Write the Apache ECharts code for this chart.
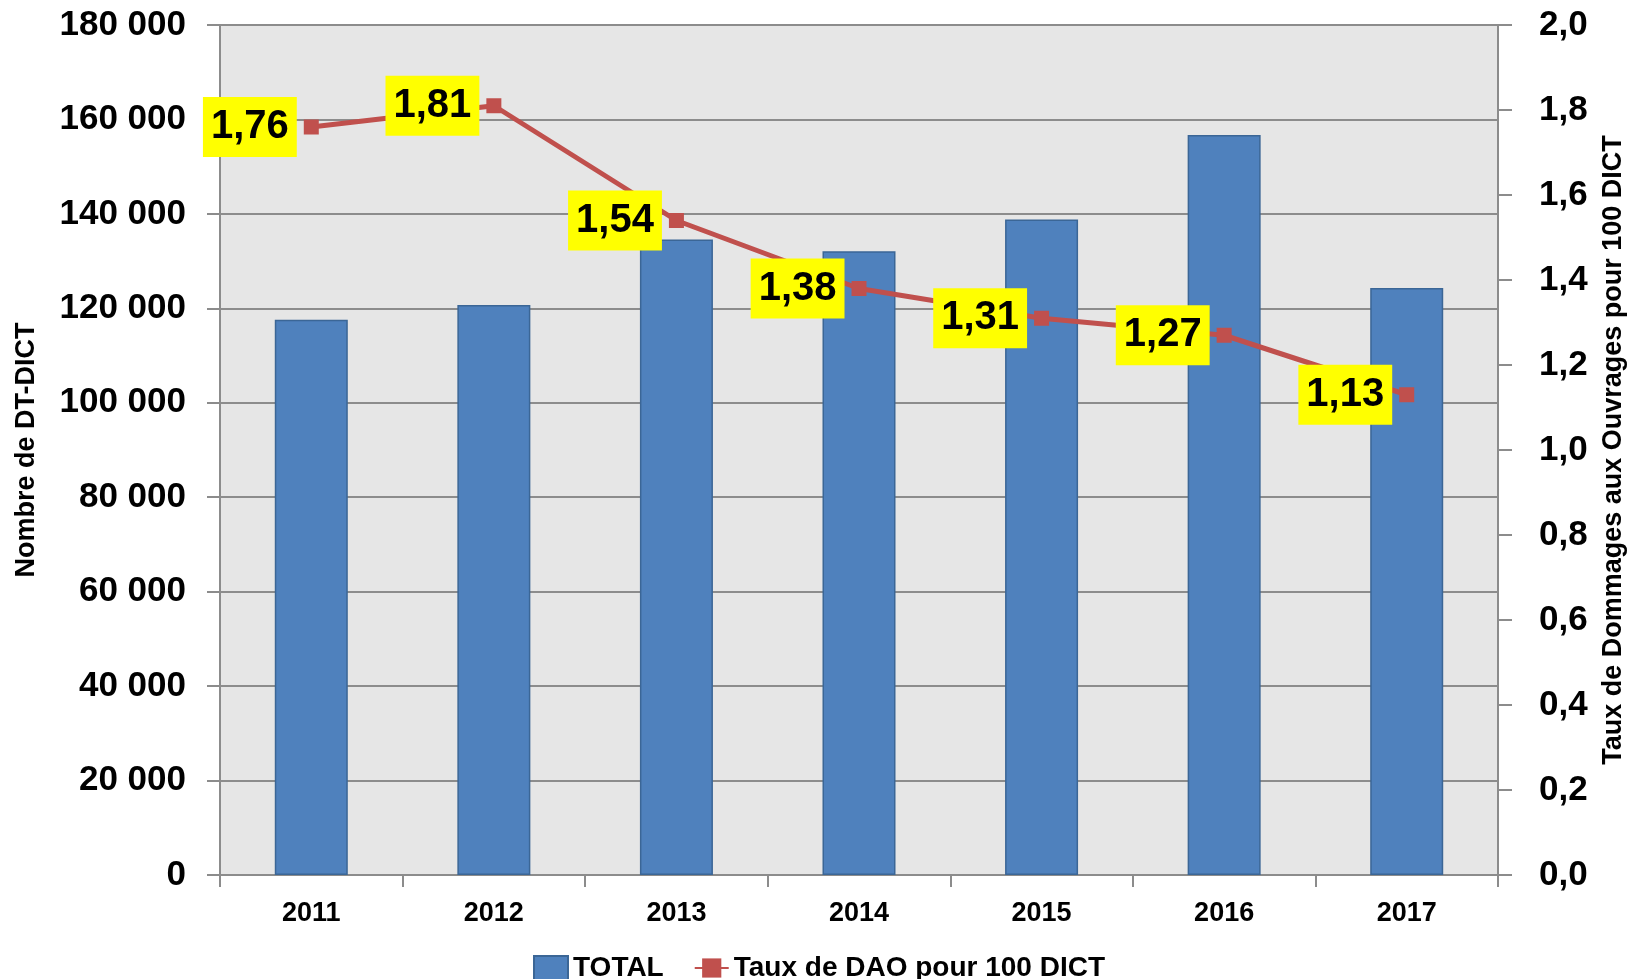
<!DOCTYPE html>
<html>
<head>
<meta charset="utf-8">
<title>DT-DICT et taux de DAO</title>
<script src="https://cdn.jsdelivr.net/npm/echarts@6/dist/echarts.min.js"></script>
<style>
  html, body { margin: 0; padding: 0; background: #fff; }
  #chart { width: 1635px; height: 979px; }
</style>
</head>
<body>
<div id="chart"></div>
<script>
// data
const years = ["2011", "2012", "2013", "2014", "2015", "2016", "2017"];
const totalDtDict = [117600, 120700, 134600, 132100, 138800, 156700, 124300];
const tauxDao = [1.76, 1.81, 1.54, 1.38, 1.31, 1.27, 1.13];

const FONT = "'Liberation Sans', Arial, sans-serif";
const GREY = "#8c8c8c";

// "180 000" style
function thousands(v) {
  return String(v).replace(/\B(?=(\d{3})+(?!\d))/g, " ");
}
function comma(v, d) {
  return v.toFixed(d).replace(".", ",");
}

const chart = echarts.init(document.getElementById("chart"));

const option = {
  animation: false,
  backgroundColor: "#ffffff",
  grid: {
    left: 220,
    right: 129,
    top: 25,
    bottom: 104,
    show: true,
    backgroundColor: "#e6e6e6",
    borderWidth: 0
  },
  legend: {
    left: 528,
    top: 949,
    itemGap: 30,
    itemWidth: 34,
    itemHeight: 24,
    textStyle: { fontFamily: FONT, fontWeight: "bold", fontSize: 28, color: "#000" },
    data: [
      { name: "TOTAL", icon: "rect" },
      { name: "Taux de DAO pour 100 DICT" }
    ]
  },
  xAxis: {
    type: "category",
    data: years,
    boundaryGap: true,
    axisLine: { show: true, lineStyle: { color: GREY, width: 2 } },
    axisTick: { show: true, length: 12, lineStyle: { color: GREY, width: 2 } },
    axisLabel: {
      margin: 25,
      fontFamily: FONT,
      fontWeight: "bold",
      fontSize: 27,
      color: "#000"
    }
  },
  yAxis: [
    {
      type: "value",
      min: 0,
      max: 180000,
      interval: 20000,
      name: "Nombre de DT-DICT",
      nameLocation: "middle",
      nameRotate: 90,
      nameGap: 180,
      nameTextStyle: { fontFamily: FONT, fontWeight: "bold", fontSize: 27, color: "#000" },
      axisLine: { show: true, lineStyle: { color: GREY, width: 2 } },
      axisTick: { show: true, length: 13, lineStyle: { color: GREY, width: 2 } },
      axisLabel: {
        margin: 34,
        fontFamily: FONT,
        fontWeight: "bold",
        fontSize: 35,
        color: "#000",
        formatter: thousands
      },
      splitLine: { show: true, lineStyle: { color: GREY, width: 2 } }
    },
    {
      type: "value",
      min: 0,
      max: 2,
      interval: 0.2,
      position: "right",
      name: "Taux de Dommages aux Ouvrages pour 100 DICT",
      nameLocation: "middle",
      nameRotate: 90,
      nameGap: 102,
      nameTextStyle: { fontFamily: FONT, fontWeight: "bold", fontSize: 27, color: "#000" },
      axisLine: { show: true, lineStyle: { color: GREY, width: 2 } },
      axisTick: { show: true, length: 14, lineStyle: { color: GREY, width: 2 } },
      axisLabel: {
        margin: 41,
        fontFamily: FONT,
        fontWeight: "bold",
        fontSize: 35,
        color: "#000",
        formatter: function (v) { return comma(v, 1); }
      },
      splitLine: { show: false }
    }
  ],
  series: [
    {
      name: "TOTAL",
      type: "bar",
      yAxisIndex: 0,
      data: totalDtDict,
      barWidth: 73,
      itemStyle: { color: "#4f81bd", borderColor: "#3b6696", borderWidth: 1.5 }
    },
    {
      name: "Taux de DAO pour 100 DICT",
      type: "line",
      yAxisIndex: 1,
      data: tauxDao,
      symbol: "rect",
      symbolSize: 15,
      lineStyle: { color: "#c0504d", width: 5 },
      itemStyle: { color: "#c0504d" },
      label: {
        show: true,
        position: "left",
        distance: 7,
        formatter: function (p) { return comma(p.value, 2); },
        fontFamily: FONT,
        fontWeight: "bold",
        fontSize: 40,
        color: "#000",
        backgroundColor: "#ffff00",
        padding: [11, 8, 9, 8]
      }
    }
  ]
};

chart.setOption(option);
</script>
</body>
</html>
